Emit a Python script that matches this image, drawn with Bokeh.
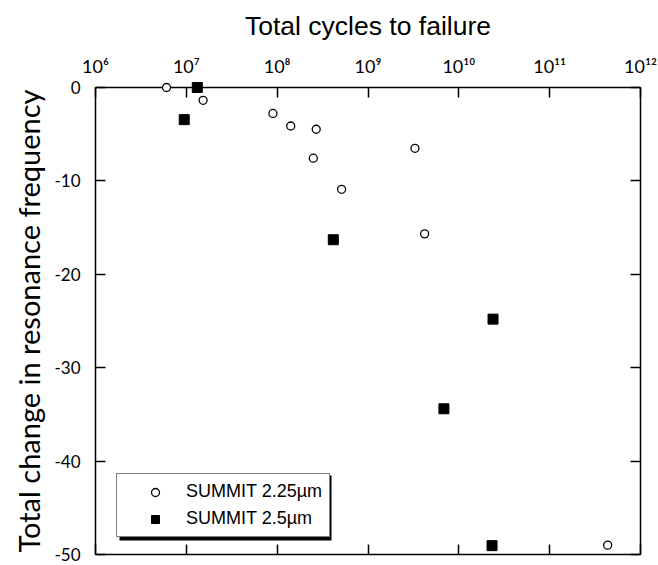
from bokeh.plotting import figure
from bokeh.models import (Range1d, FixedTicker, LogAxis, LinearAxis, Legend,
                          LegendItem, BoxAnnotation)
from bokeh.embed import file_html
from bokeh.resources import INLINE

# ---- data ----
s225_cycles = [6.05e6, 1.53e7, 8.98e7, 1.41e8, 2.69e8, 2.50e8, 5.12e8, 3.29e9, 4.20e9, 4.35e11]
s225_change = [0.0, -1.37, -2.78, -4.12, -4.47, -7.57, -10.9, -6.51, -15.67, -49.0]

s25_cycles = [1.32e7, 9.48e6, 4.15e8, 2.38e10, 6.85e9, 2.32e10]
s25_change = [0.0, -3.44, -16.3, -24.8, -34.4, -49.05]

x_ticks = [1e6, 1e7, 1e8, 1e9, 1e10, 1e11, 1e12]
x_tick_labels = ["10\u2076", "10\u2077", "10\u2078", "10\u2079",
                 "10\u00b9\u2070", "10\u00b9\u00b9", "10\u00b9\u00b2"]
y_ticks = [-50, -40, -30, -20, -10, 0]
y_tick_labels = ["-50", "-40", "-30", "-20", "-10", "0"]

series_labels = ["SUMMIT 2.25\u00b5m", "SUMMIT 2.5\u00b5m"]

# ---- figure ----
p = figure(width=658, height=565, x_axis_type="log",
           x_range=Range1d(1e6, 1e12), y_range=Range1d(-50, 0),
           x_axis_location="above", y_axis_location="left",
           output_backend="svg", toolbar_location=None,
           min_border_left=95, min_border_right=18,
           min_border_top=87, min_border_bottom=11,
           background_fill_color="white", border_fill_color="white")
p.grid.visible = False
p.outline_line_color = None

tick_font = "Lato"

def style_axis(ax, labels=True):
    ax.axis_line_color = "black"
    ax.axis_line_width = 1.5
    ax.major_tick_line_color = "black"
    ax.major_tick_line_width = 1.5
    ax.major_tick_in = 10
    ax.major_tick_out = 0
    ax.minor_tick_line_color = None
    if not labels:
        ax.major_label_text_font_size = "1px"
        ax.major_label_text_alpha = 0
        ax.major_label_standoff = 0

# top axis
xa = p.xaxis[0]
xa.ticker = FixedTicker(ticks=x_ticks)
xa.major_label_overrides = dict(zip(x_ticks, x_tick_labels))
style_axis(xa)
xa.major_label_text_font = tick_font
xa.major_label_text_font_size = "18px"
xa.major_label_text_color = "black"
xa.major_label_standoff = 11
xa.axis_label = "Total cycles to failure"
xa.axis_label_text_font = "Liberation Sans"
xa.axis_label_text_font_size = "26.5px"
xa.axis_label_text_font_style = "normal"
xa.axis_label_text_color = "black"
xa.axis_label_standoff = 11

# left axis
ya = p.yaxis[0]
ya.ticker = FixedTicker(ticks=y_ticks)
ya.major_label_overrides = {float(k): v for k, v in zip(y_ticks, y_tick_labels)}
style_axis(ya)
ya.major_label_text_font = tick_font
ya.major_label_text_font_size = "17px"
ya.major_label_text_color = "black"
ya.major_label_standoff = 15
ya.axis_label = "Total change in resonance frequency"
ya.axis_label_text_font = "Lato"
ya.axis_label_text_font_size = "29px"
ya.axis_label_text_font_style = "normal"
ya.axis_label_text_color = "black"
ya.axis_label_standoff = 5

# mirrored bottom / right axes (ticks only)
xb = LogAxis(ticker=FixedTicker(ticks=x_ticks))
style_axis(xb, labels=False)
p.add_layout(xb, "below")
yr = LinearAxis(ticker=FixedTicker(ticks=y_ticks))
style_axis(yr, labels=False)
p.add_layout(yr, "right")

# ---- data glyphs ----
r1 = p.scatter(s225_cycles, s225_change, marker="circle", size=8,
               fill_color="white", line_color="black", line_width=1.3,
               level="overlay")
r2 = p.scatter(s25_cycles, s25_change, marker="square", size=10,
               fill_color="black", line_color="black", line_width=1,
               level="overlay")

# legend shadow (screen pixels relative to the frame, offset 3px)
shadow = BoxAnnotation(left=24, right=236, bottom=14, top=79,
                       left_units="screen", right_units="screen",
                       top_units="screen", bottom_units="screen",
                       fill_color="black", fill_alpha=1.0, line_color=None,
                       level="annotation")
p.add_layout(shadow)

legend = Legend(items=[LegendItem(label=series_labels[0], renderers=[r1]),
                       LegendItem(label=series_labels[1], renderers=[r2])],
                location=(21, 17), orientation="vertical",
                padding=7, spacing=6, margin=0,
                glyph_width=62, glyph_height=20, label_standoff=-2,
                label_height=20,
                label_text_font="Liberation Sans", label_text_font_size="18px",
                label_text_color="black",
                border_line_color="black", border_line_width=1.5,
                background_fill_color="white", background_fill_alpha=1.0)
p.add_layout(legend, "center")

open("out.html", "w").write(file_html(p, INLINE))
